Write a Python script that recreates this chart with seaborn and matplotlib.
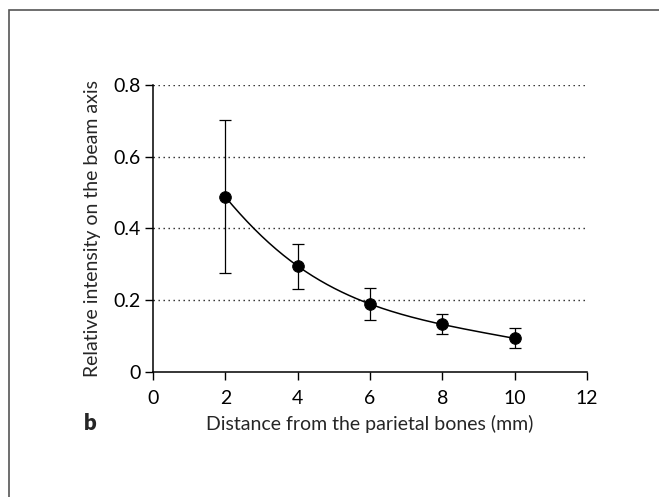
import numpy as np
import pandas as pd
import seaborn as sns
import matplotlib.pyplot as plt
from matplotlib.patches import Rectangle
from matplotlib.ticker import FuncFormatter

# данные
distance = [2, 4, 6, 8, 10]
intensity = [0.488, 0.295, 0.189, 0.132, 0.093]
err_low = [0.276, 0.232, 0.144, 0.104, 0.067]
err_high = [0.702, 0.356, 0.233, 0.160, 0.121]

x_ticks = [0, 2, 4, 6, 8, 10, 12]
y_ticks = [0, 0.2, 0.4, 0.6, 0.8]

sns.set_style("ticks")
plt.rcParams['font.family'] = ['Lato', 'DejaVu Sans']

df = pd.DataFrame({'x': distance, 'y': intensity})

# гладкая кривая через точки (интерполяция в логарифмах)
coef = np.polyfit(distance, np.log(intensity), len(distance) - 1)
xs = np.linspace(distance[0], distance[-1], 200)
df_curve = pd.DataFrame({'x': xs, 'y': np.exp(np.polyval(coef, xs))})

fig = plt.figure(figsize=(6.59, 4.97), dpi=100)
ax = fig.add_axes([0.232, 0.252, 0.659, 0.577])

for t in y_ticks[1:]:
    ax.axhline(t, color='#222222', lw=1.0, ls=(0, (1, 2.6)), zorder=0)

sns.lineplot(data=df_curve, x='x', y='y', ax=ax, color='black', lw=1.1)
yerr = [np.array(intensity) - np.array(err_low), np.array(err_high) - np.array(intensity)]
ax.errorbar(distance, intensity, yerr=yerr, fmt='none', ecolor='black',
            elinewidth=0.9, capsize=4.5, capthick=0.9)
sns.scatterplot(data=df, x='x', y='y', ax=ax, color='black', s=70,
                edgecolor='black', zorder=5)

ax.set_xlim(0, 12)
ax.set_ylim(0, 0.8)
ax.set_xticks(x_ticks)
ax.set_yticks(y_ticks)
ax.yaxis.set_major_formatter(FuncFormatter(lambda v, p: '0' if v == 0 else f'{v:.1f}'))
ax.tick_params(direction='out', length=6, width=1, labelsize=14, colors='black')
ax.tick_params(axis='x', pad=7)
ax.tick_params(axis='y', pad=3)
for s in ['top', 'right']:
    ax.spines[s].set_visible(False)
for s in ['left', 'bottom']:
    ax.spines[s].set_linewidth(1.1)
    ax.spines[s].set_color('black')

ax.set_xlabel('Distance from the parietal bones (mm)', fontsize=14, labelpad=6)
ax.set_ylabel('Relative intensity on the beam axis', fontsize=14, labelpad=9)
fig.text(84 / 659, 1 - 424 / 497, 'b', fontsize=16, fontweight='heavy',
         ha='left', va='center')

# рамка вокруг рисунка
fig.patches.append(Rectangle((9 / 659, -0.1), 1.2, 1.1 - 10 / 497,
                             transform=fig.transFigure, fill=False,
                             edgecolor='#555555', lw=1.2))

fig.savefig('out.png', dpi=100, facecolor='white')
